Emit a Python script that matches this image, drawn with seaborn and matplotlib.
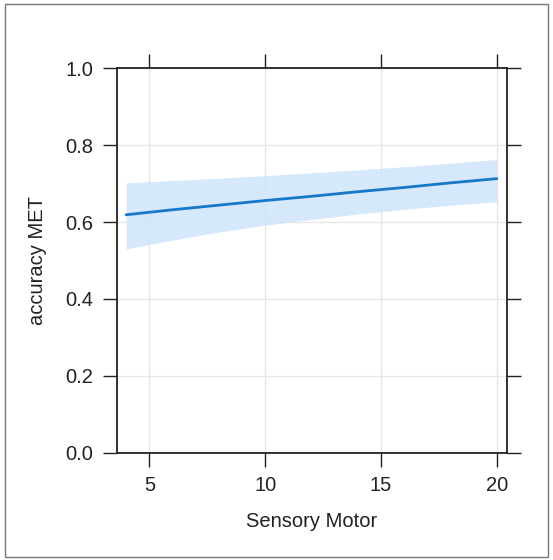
import matplotlib
matplotlib.use("Agg")
import matplotlib.pyplot as plt
import matplotlib.patches as mpatches
import pandas as pd
import seaborn as sns

# Effect of Sensory Motor score on MET accuracy, with confidence band
sensory_motor = [4, 6, 8, 10, 12, 14, 16, 18, 20]
accuracy_fit = [0.619, 0.632, 0.644, 0.656, 0.667, 0.679, 0.690, 0.702, 0.713]
accuracy_lower = [0.530, 0.553, 0.574, 0.592, 0.607, 0.621, 0.633, 0.644, 0.653]
accuracy_upper = [0.702, 0.708, 0.714, 0.721, 0.728, 0.736, 0.744, 0.753, 0.763]

x_ticks = [5, 10, 15, 20]
y_ticks = [0.0, 0.2, 0.4, 0.6, 0.8, 1.0]

df = pd.DataFrame({
    "Sensory Motor": sensory_motor,
    "fit": accuracy_fit,
    "lower": accuracy_lower,
    "upper": accuracy_upper,
})

sns.set_style("white")
plt.rcParams["font.family"] = ["Liberation Sans", "DejaVu Sans"]

fig = plt.figure(figsize=(5.53, 5.6), dpi=100)
ax = fig.add_axes([0.211, 0.1916, 0.705, 0.6864])

# light grid behind everything
for xv in x_ticks:
    ax.axvline(xv, color="#e6e6e6", lw=1.0, zorder=0)
for yv in y_ticks:
    ax.axhline(yv, color="#e6e6e6", lw=1.0, zorder=0)

ax.fill_between(df["Sensory Motor"], df["lower"], df["upper"],
                color="#cfe5fb", alpha=0.85, lw=0, zorder=1)
sns.lineplot(data=df, x="Sensory Motor", y="fit", ax=ax,
             color="#1479c9", lw=2.0, zorder=2)

ax.set_xlim(3.59, 20.42)
ax.set_ylim(0, 1)
ax.set_xticks(x_ticks)
ax.set_yticks(y_ticks)
ax.set_yticklabels([f"{v:.1f}" for v in y_ticks])

ax.tick_params(axis="both", which="both", direction="out", length=10,
               width=1.0, color="#222222", labelsize=14.5,
               labelcolor="#222222", pad=7,
               top=True, right=True, bottom=True, left=True,
               labeltop=False, labelright=False)

for side in ["left", "right", "top", "bottom"]:
    ax.spines[side].set_visible(True)
    ax.spines[side].set_color("#222222")
    ax.spines[side].set_linewidth(1.3)

ax.set_xlabel("Sensory Motor", fontsize=14.5, color="#222222", labelpad=12)
ax.set_ylabel("accuracy MET", fontsize=14.5, color="#222222", labelpad=13)

# thin frame around the whole figure
fig.patches.append(mpatches.Rectangle((0.009, 0.006), 0.982, 0.987,
                                      transform=fig.transFigure,
                                      fill=False, edgecolor="#777777",
                                      lw=1.0))

fig.savefig("out.png", dpi=100)
